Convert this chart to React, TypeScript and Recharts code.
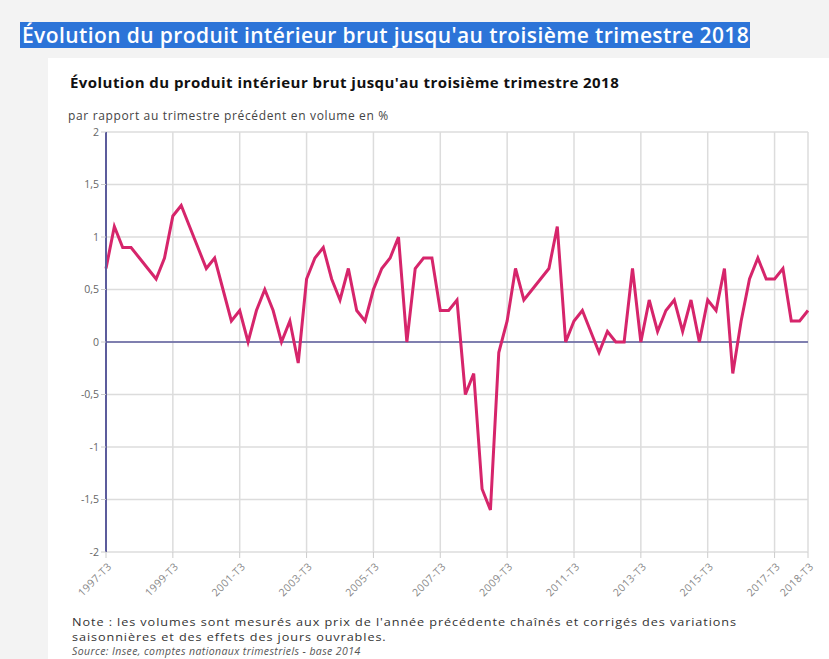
import React from 'react';
import {
  LineChart,
  Line,
  XAxis,
  YAxis,
  CartesianGrid,
  ReferenceLine,
} from 'recharts';

// Trimestres de 1997-T3 à 2018-T3
const FIRST_YEAR = 1997;
const QUARTERS: string[] = [];
for (let k = 0; k < 85; k++) {
  const q = ((2 + k) % 4) + 1;
  const y = FIRST_YEAR + Math.floor((2 + k) / 4);
  QUARTERS.push(`${y}-T${q}`);
}

// Évolution du PIB, en % par rapport au trimestre précédent
const PIB = [
  0.7, 1.1, 0.9, 0.9, 0.8, 0.7, 0.6, 0.8, 1.2, 1.3,
  1.1, 0.9, 0.7, 0.8, 0.5, 0.2, 0.3, 0.0, 0.3, 0.5,
  0.3, 0.0, 0.2, -0.2, 0.6, 0.8, 0.9, 0.6, 0.4, 0.7,
  0.3, 0.2, 0.5, 0.7, 0.8, 1.0, 0.0, 0.7, 0.8, 0.8,
  0.3, 0.3, 0.4, -0.5, -0.3, -1.4, -1.6, -0.1, 0.2, 0.7,
  0.4, 0.5, 0.6, 0.7, 1.1, 0.0, 0.2, 0.3, 0.1, -0.1,
  0.1, 0.0, 0.0, 0.7, 0.0, 0.4, 0.1, 0.3, 0.4, 0.1,
  0.4, 0.0, 0.4, 0.3, 0.7, -0.3, 0.2, 0.6, 0.8, 0.6,
  0.6, 0.7, 0.2, 0.2, 0.3,
];

const TICK_LABELS = [
  '1997-T3', '1999-T3', '2001-T3', '2003-T3', '2005-T3', '2007-T3',
  '2009-T3', '2011-T3', '2013-T3', '2015-T3', '2017-T3', '2018-T3',
];

const Y_TICKS = [-2, -1.5, -1, -0.5, 0, 0.5, 1, 1.5, 2];

const NOTE_LINES = [
  "Note : les volumes sont mesurés aux prix de l'année précédente chaînés et corrigés des variations",
  'saisonnières et des effets des jours ouvrables.',
];
const SOURCE = 'Source: Insee, comptes nationaux trimestriels - base 2014';

const data = QUARTERS.map((q, i) => ({ i, q, pib: PIB[i] }));
const xTicks = TICK_LABELS.map((l) => QUARTERS.indexOf(l));

const FONT = '"Open Sans", "Noto Sans", sans-serif';

function XTick({ x, y, payload }: any) {
  return (
    <g transform={`translate(${x + 2},${y + 3})`}>
      <text
        transform="rotate(-45)"
        textAnchor="end"
        fontSize={10.5}
        letterSpacing={0.4}
        fill="#888"
        fontFamily={FONT}
        dy={6}
      >
        {QUARTERS[payload.value]}
      </text>
    </g>
  );
}

export default function App() {
  return (
    <div
      style={{
        position: 'absolute',
        left: 0,
        top: 0,
        width: 829,
        height: 659,
        background: '#f3f3f3',
        fontFamily: FONT,
        overflow: 'hidden',
      }}
    >
      <div
        style={{
          position: 'absolute',
          left: 20,
          top: 22,
          width: 728,
          height: 26,
          background: '#2c74d8',
          color: '#fff',
          fontSize: 21,
          fontWeight: 600,
          letterSpacing: 0.4,
          lineHeight: '26px',
          paddingLeft: 2,
          whiteSpace: 'nowrap',
          overflow: 'hidden',
        }}
      >
        Évolution du produit intérieur brut jusqu'au troisième trimestre 2018
      </div>
      <div
        style={{
          position: 'absolute',
          left: 48,
          top: 58,
          right: 0,
          bottom: 0,
          background: '#fff',
        }}
      />
      <div
        style={{
          position: 'absolute',
          left: 70,
          top: 72,
          fontSize: 15,
          fontWeight: 700,
          letterSpacing: 0.45,
          color: '#111',
          whiteSpace: 'nowrap',
        }}
      >
        Évolution du produit intérieur brut jusqu'au troisième trimestre 2018
      </div>
      <div
        style={{
          position: 'absolute',
          left: 68,
          top: 107,
          fontSize: 12,
          letterSpacing: 0.65,
          color: '#444',
          whiteSpace: 'nowrap',
        }}
      >
        par rapport au trimestre précédent en volume en %
      </div>
      <div style={{ position: 'absolute', left: 0, top: 0 }}>
        <LineChart
          width={829}
          height={659}
          data={data}
          margin={{ top: 132, right: 21, bottom: 57, left: 66 }}
        >
          <CartesianGrid stroke="#dcdcdc" strokeWidth={1.5} />
          <XAxis
            dataKey="i"
            type="number"
            domain={[0, 84]}
            ticks={xTicks}
            interval={0}
            height={50}
            axisLine={false}
            tickLine={{ stroke: '#ccc' }}
            tick={<XTick />}
          />
          <YAxis
            domain={[-2, 2]}
            ticks={Y_TICKS}
            interval={0}
            width={40}
            axisLine={{ stroke: '#5c5c9c', strokeWidth: 2 }}
            tickLine={{ stroke: '#ccc' }}
            tickSize={5}
            tick={{ fontSize: 10.5, fill: '#666', fontFamily: FONT }}
            tickFormatter={(v: number) => String(v).replace('.', ',')}
          />
          <ReferenceLine y={0} stroke="#5c5c9c" strokeWidth={1.5} />
          <Line
            type="linear"
            dataKey="pib"
            stroke="#d6256b"
            strokeWidth={3}
            dot={false}
            isAnimationActive={false}
          />
        </LineChart>
      </div>
      {NOTE_LINES.map((line, k) => (
        <div
          key={k}
          style={{
            position: 'absolute',
            left: 72,
            top: 614 + k * 15,
            height: 15,
            fontSize: 11,
            lineHeight: '15px',
            letterSpacing: 0.8,
            transform: 'scaleX(1.15)',
            transformOrigin: 'left center',
            color: '#333',
            whiteSpace: 'nowrap',
          }}
        >
          {line}
        </div>
      ))}
      <div
        style={{
          position: 'absolute',
          left: 72,
          top: 644,
          height: 15,
          fontSize: 10.5,
          lineHeight: '15px',
          letterSpacing: 0.4,
          fontStyle: 'italic',
          color: '#555',
          whiteSpace: 'nowrap',
        }}
      >
        {SOURCE}
      </div>
    </div>
  );
}
